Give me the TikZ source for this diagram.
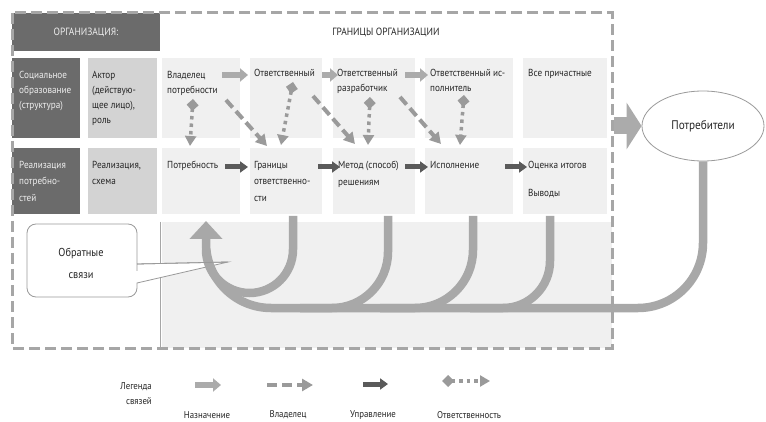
\documentclass[tikz,border=0pt]{standalone}
\usepackage{fontspec}
\setmainfont{PT Sans}[FakeStretch=0.9]
\usetikzlibrary{arrows.meta,shapes.geometric}
\definecolor{darkc}{HTML}{6B6B6B}
\definecolor{midc}{HTML}{D3D3D3}
\definecolor{cellc}{HTML}{F0F0F0}
\definecolor{bordc}{HTML}{A6A6A6}
\definecolor{asgc}{HTML}{ABABAB}
\definecolor{ctlc}{HTML}{5A5A5A}
\definecolor{ownc}{HTML}{9A9A9A}
\definecolor{fbc}{HTML}{A8A8A8}
\definecolor{txtc}{HTML}{262626}
\definecolor{wtc}{HTML}{EEEEEE}
\begin{document}
\begin{tikzpicture}[x=1pt,y=-1pt,
  box/.style={inner sep=0pt, outer sep=0pt, anchor=north west, draw=none},
  txt/.style={anchor=north west, align=left, inner sep=0pt, text=txtc, font=\fontsize{10.2}{15}\selectfont},
  txtb/.style={txt, font=\fontsize{10.2}{16.5}\selectfont},
  wtxt/.style={text=wtc},
  asg/.style={draw=asgc, line width=5.5pt, -{Triangle[length=8pt,width=13pt]}},
  ctl/.style={draw=ctlc, line width=5pt, -{Triangle[length=8pt,width=11pt]}},
  own/.style={draw=ownc, line width=4pt, dash pattern=on 10pt off 5pt, -{Triangle[length=11pt,width=12pt]}},
  resp/.style={draw=ownc, line width=3.5pt, dash pattern=on 3.5pt off 4pt, {Diamond[length=12pt,width=12pt]}-{Triangle[length=10pt,width=11pt]}},
  fb/.style={draw=fbc, line width=8.5pt},
  lgd/.style={text=txtc, font=\fontsize{9.8}{12}\selectfont, inner sep=0pt},
]
\useasboundingbox (0,0) rectangle (766,422);
\fill[white] (0,0) rectangle (766,422);

% lower region
\fill[cellc] (162,222) rectangle (612,348);
\draw[bordc, line width=0.9pt] (160,222) -- (160,348);

% header
\node[box, fill=darkc, minimum width=148pt, minimum height=38pt] (hdr) at (12,13) {};
\node[text=wtc, font=\fontsize{10.5}{12}\selectfont] (hdrt) at (86,32) {ОРГАНИЗАЦИЯ:};
\node[text=txtc, font=\fontsize{10.5}{12}\selectfont] (bound) at (386,32) {ГРАНИЦЫ ОРГАНИЗАЦИИ};

% cells row 1
\node[box, fill=darkc, minimum width=68pt, minimum height=80pt] (r1c1) at (12,58) {};
\node[box, fill=midc, minimum width=69pt, minimum height=80pt] (r1c2) at (88,58) {};
\node[box, fill=cellc, minimum width=78pt, minimum height=80pt] (r1c3) at (162,58) {};
\node[box, fill=cellc, minimum width=72pt, minimum height=80pt] (r1c4) at (250,58) {};
\node[box, fill=cellc, minimum width=82pt, minimum height=80pt] (r1c5) at (333,58) {};
\node[box, fill=cellc, minimum width=88pt, minimum height=80pt] (r1c6) at (425,58) {};
\node[box, fill=cellc, minimum width=84pt, minimum height=80pt] (r1c7) at (523,58) {};
% cells row 2
\node[box, fill=darkc, minimum width=68pt, minimum height=66pt] (r2c1) at (12,148) {};
\node[box, fill=midc, minimum width=69pt, minimum height=66pt] (r2c2) at (88,148) {};
\node[box, fill=cellc, minimum width=78pt, minimum height=66pt] (r2c3) at (162,148) {};
\node[box, fill=cellc, minimum width=72pt, minimum height=66pt] (r2c4) at (250,148) {};
\node[box, fill=cellc, minimum width=82pt, minimum height=66pt] (r2c5) at (333,148) {};
\node[box, fill=cellc, minimum width=88pt, minimum height=66pt] (r2c6) at (425,148) {};
\node[box, fill=cellc, minimum width=84pt, minimum height=66pt] (r2c7) at (523,148) {};

% texts row 1
\node[txt, wtxt] (t11) at (19,71) {Социальное\\образование\\(структура)};
\node[txt] (t12) at (92,71) {Актор\\(действую-\\щее лицо),\\роль};
\node[txt] (t13) at (167,71) {Владелец\\потребности};
\node[txt] (t14) at (254,69) {Ответственный};
\node[txt] (t15) at (337,69) {Ответственный\\разработчик};
\node[txt] (t16) at (430,69) {Ответственный ис-\\полнитель};
\node[txt] (t17) at (528,69) {Все причастные};
% texts row 2
\node[txtb, wtxt] (t21) at (19,161) {Реализация\\потребно-\\стей};
\node[txtb] (t22) at (92,161) {Реализация,\\схема};
\node[txtb] (t23) at (167,161) {Потребность};
\node[txtb] (t24) at (254,161) {Границы\\ответственно-\\сти};
\node[txtb] (t25) at (338,161) {Метод (способ)\\решениям};
\node[txtb] (t26) at (430,161) {Исполнение};
\node[txtb] (t27) at (528,161) {Оценка итогов\\[12pt]Выводы};

% assignment arrows row 1
\coordinate (a1s) at (222,75); \coordinate (a1e) at (248,75);
\coordinate (a2s) at (322,75); \coordinate (a2e) at (338,75);
\coordinate (a3s) at (405,75); \coordinate (a3e) at (428,75);
\draw[asg] (a1s) -- (a1e);
\draw[asg] (a2s) -- (a2e);
\draw[asg] (a3s) -- (a3e);

% control arrows row 2
\coordinate (b1s) at (225,167); \coordinate (b1e) at (248,167);
\coordinate (b2s) at (318,167); \coordinate (b2e) at (340,167);
\coordinate (b3s) at (405,167); \coordinate (b3e) at (428,167);
\coordinate (b4s) at (505,167); \coordinate (b4e) at (527,167);
\draw[ctl] (b1s) -- (b1e);
\draw[ctl] (b2s) -- (b2e);
\draw[ctl] (b3s) -- (b3e);
\draw[ctl] (b4s) -- (b4e);

% owner arrows
\coordinate (d1s) at (226,100); \coordinate (d1e) at (267,146);
\coordinate (d2s) at (313,96); \coordinate (d2e) at (355,144);
\coordinate (d3s) at (400,97); \coordinate (d3e) at (441,144);
\draw[own] (d1s) -- (d1e);
\draw[own] (d2s) -- (d2e);
\draw[own] (d3s) -- (d3e);

% responsibility arrows
\coordinate (e1s) at (193,99); \coordinate (e1e) at (190,146);
\coordinate (e2s) at (293,82); \coordinate (e2e) at (281,145);
\coordinate (e3s) at (370,97); \coordinate (e3e) at (368,145);
\coordinate (e4s) at (464,95); \coordinate (e4e) at (460,145);
\draw[resp] (e1s) -- (e1e);
\draw[resp] (e2s) -- (e2e);
\draw[resp] (e3s) -- (e3e);
\draw[resp] (e4s) -- (e4e);

% callout
\draw[draw=ownc, fill=white, line width=0.8pt] (82,224) [rounded corners=9pt] -- (137,224) -- (137,262) [sharp corners] -- (137,264) -- (228,262) -- (137,283) [rounded corners=9pt] -- (137,297) -- (27,297) -- (27,224) -- (82,224);
\node[text=txtc, font=\fontsize{11.5}{13}\selectfont] (co1) at (81,253) {Обратные};
\node[text=txtc, font=\fontsize{11.5}{13}\selectfont] (co2) at (81,276) {связи};

% consumers
\node[ellipse, draw=ownc, fill=white, line width=0.8pt, minimum width=122pt, minimum height=70pt, inner sep=0pt, text=txtc, font=\fontsize{12.5}{14}\selectfont] (ell) at (703,126) {Потребители};

% feedback arrows
\coordinate (fin) at (206,221);
\coordinate (f4) at (293,216);
\coordinate (f5) at (388,216);
\coordinate (f6) at (473,216);
\coordinate (f7) at (550,216);
\draw[fb, rounded corners=43.5pt] (f4) -- (293,293) -- (206,293) -- (206,250);
\draw[fb, rounded corners=56pt] (f5) -- (388,308) -- (300,308);
\draw[fb, rounded corners=58pt] (f6) -- (473,308) -- (380,308);
\draw[fb, rounded corners=47pt] (f7) -- (550,308) -- (470,308);
\draw[fb, rounded corners=65pt, -{Triangle[length=18pt,width=32pt]}] (ell.south) -- (703,308) -- (206,308) -- (fin);
\draw[draw=ownc, line width=0.8pt] (137,264) -- (228,262);

% boundary
\draw[bordc, line width=3pt, dash pattern=on 11pt off 5pt] (12,13) rectangle (612,348);

% arrow to consumers
\coordinate (bs) at (614,126);
\draw[draw=asgc, line width=17pt, -{Triangle[length=15pt,width=46pt]}] (bs) -- (ell.west);

% legend
\node[lgd, anchor=east] (lg1) at (152,387) {Легенда};
\node[lgd, anchor=east] (lg2) at (152,401) {связей};
\coordinate (l1s) at (195,385); \coordinate (l1e) at (221,385);
\coordinate (l2s) at (267,385); \coordinate (l2e) at (313,385);
\coordinate (l3s) at (363,384); \coordinate (l3e) at (388,384);
\coordinate (l4s) at (442,381); \coordinate (l4e) at (490,381);
\draw[asg] (l1s) -- (l1e);
\draw[own] (l2s) -- (l2e);
\draw[ctl] (l3s) -- (l3e);
\draw[resp] (l4s) -- (l4e);
\node[lgd] (lb1) at (207,415) {Назначение};
\node[lgd] (lb2) at (288,415) {Владелец};
\node[lgd] (lb3) at (373,415) {Управление};
\node[lgd] (lb4) at (469,415) {Ответственность};
\end{tikzpicture}
\end{document}
